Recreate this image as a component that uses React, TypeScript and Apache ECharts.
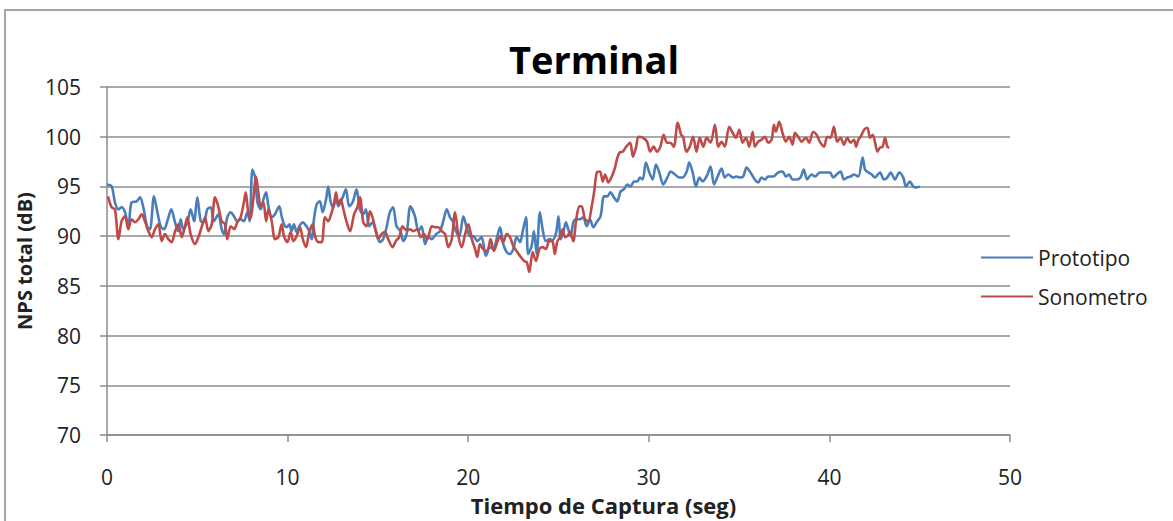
import React, { useEffect, useRef } from "react";
import * as echarts from "echarts";

const protoTime = [0.0,0.26,0.44,0.63,0.81,1.0,1.18,1.36,1.64,1.83,2.01,2.23,2.38,2.6,2.79,2.97,3.16,3.34,3.56,3.75,3.93,4.08,4.22,4.45,4.63,4.82,5.0,5.19,5.37,5.55,5.74,5.92,6.16,6.35,6.48,6.66,6.85,7.03,7.22,7.4,7.58,7.77,7.9,8.05,8.2,8.33,8.51,8.66,8.81,8.94,9.12,9.3,9.54,9.67,9.8,9.95,10.1,10.22,10.35,10.5,10.65,10.84,10.96,11.15,11.33,11.46,11.61,11.79,11.94,12.13,12.25,12.38,12.53,12.68,12.81,13.05,13.23,13.41,13.6,13.82,14.0,14.19,14.33,14.52,14.7,14.89,15.11,15.29,15.48,15.66,15.84,16.03,16.25,16.41,16.59,16.8,17.05,17.24,17.42,17.61,17.79,17.98,18.22,18.44,18.62,18.81,18.99,19.14,19.32,19.51,19.73,19.91,20.1,20.28,20.5,20.74,20.98,21.2,21.39,21.61,21.76,21.94,22.13,22.31,22.5,22.68,22.87,23.01,23.2,23.32,23.51,23.64,23.79,23.97,24.12,24.3,24.49,24.67,24.86,25.0,25.12,25.27,25.41,25.54,25.67,25.82,25.97,26.19,26.37,26.56,26.74,26.93,27.11,27.33,27.52,27.7,27.88,28.07,28.25,28.44,28.62,28.81,28.99,29.18,29.36,29.51,29.66,29.84,30.03,30.21,30.4,30.58,30.8,31.03,31.21,31.45,31.69,31.87,32.1,32.24,32.43,32.61,32.8,32.98,33.2,33.42,33.61,33.79,34.03,34.21,34.4,34.67,34.86,35.04,35.23,35.41,35.6,35.87,36.06,36.24,36.43,36.61,36.89,37.16,37.4,37.59,37.77,37.96,38.18,38.4,38.58,38.77,39.01,39.2,39.47,39.75,40.03,40.21,40.4,40.62,40.8,40.99,41.17,41.36,41.6,41.84,41.97,42.16,42.34,42.52,42.8,43.02,43.21,43.39,43.63,43.87,44.09,44.24,44.46,44.64,44.83,45.01];
const protoValue = [95.2,95.0,93.4,92.7,92.9,92.4,90.9,93.4,93.5,93.9,92.9,90.9,90.7,94.0,92.4,91.0,90.7,91.5,92.7,91.5,90.5,91.7,90.7,91.4,92.7,91.5,93.9,91.5,91.4,92.7,92.9,91.5,92.2,90.7,90.2,91.9,92.4,92.0,91.5,91.7,91.5,92.4,91.5,96.7,95.9,93.4,92.7,93.7,94.4,93.0,91.9,92.2,93.0,92.0,91.2,90.9,91.2,90.5,91.2,90.4,91.0,91.4,91.2,90.7,89.7,91.7,93.2,93.5,92.4,93.7,95.0,93.5,92.9,94.0,93.0,93.9,94.7,93.0,93.4,94.7,92.7,92.2,92.7,91.0,91.4,90.5,89.4,89.7,90.9,92.4,92.9,91.0,90.5,89.5,90.2,93.0,92.0,90.5,91.0,89.2,89.9,89.7,90.2,90.5,91.5,92.7,91.9,91.5,90.5,90.0,92.0,90.9,90.0,90.0,89.5,89.9,88.0,88.9,88.7,90.0,90.9,89.2,88.4,88.2,88.7,89.9,89.4,90.4,91.9,88.2,89.0,90.5,88.2,92.4,90.7,89.5,89.7,89.6,90.3,92.0,89.7,90.4,91.4,90.7,90.0,91.4,91.7,91.7,91.9,91.0,91.7,90.9,91.4,92.0,94.0,94.0,94.4,93.9,93.5,94.5,94.7,95.2,95.0,95.5,95.5,95.9,95.7,97.4,96.4,95.7,97.2,96.4,95.2,95.9,96.5,96.2,95.9,95.9,96.5,97.4,96.4,95.0,95.9,95.5,96.0,97.0,95.2,95.9,96.8,95.9,96.2,95.9,96.0,95.9,96.0,96.9,96.5,95.7,95.4,95.9,95.7,96.0,96.0,96.4,96.5,96.0,96.2,95.7,95.7,95.9,96.7,95.7,96.2,96.0,96.4,96.4,96.4,95.9,96.2,96.5,95.7,95.9,96.0,96.2,96.0,97.9,96.7,96.4,96.2,95.9,96.4,95.7,95.9,96.4,95.7,96.4,95.9,95.0,95.5,95.0,94.9,95.0];

const sonoTime = [0.05,0.26,0.44,0.63,0.81,1.0,1.18,1.36,1.55,1.74,1.92,2.1,2.29,2.47,2.66,2.84,3.03,3.21,3.4,3.58,3.77,3.95,4.14,4.32,4.45,4.63,4.87,5.06,5.24,5.43,5.61,5.8,5.98,6.16,6.35,6.53,6.66,6.85,7.03,7.22,7.4,7.58,7.68,7.82,7.95,8.1,8.25,8.38,8.51,8.66,8.81,8.94,9.12,9.3,9.49,9.67,9.8,9.99,10.17,10.32,10.5,10.69,10.84,11.02,11.2,11.39,11.52,11.7,11.89,12.07,12.25,12.44,12.57,12.68,12.81,12.94,13.09,13.27,13.46,13.68,13.86,14.01,14.19,14.38,14.56,14.7,14.89,15.02,15.2,15.39,15.57,15.81,15.99,16.18,16.36,16.5,16.67,16.78,16.96,17.18,17.37,17.55,17.74,17.98,18.16,18.35,18.53,18.72,18.9,19.09,19.27,19.46,19.64,19.83,20.01,20.2,20.38,20.5,20.65,20.83,21.05,21.24,21.42,21.61,21.76,21.94,22.13,22.31,22.5,22.68,22.87,23.09,23.24,23.38,23.57,23.75,23.94,24.12,24.3,24.49,24.68,24.79,24.94,25.09,25.23,25.36,25.49,25.64,25.82,25.97,26.15,26.28,26.47,26.65,26.84,26.97,27.12,27.3,27.45,27.58,27.76,27.95,28.13,28.23,28.38,28.56,28.75,28.97,29.12,29.3,29.43,29.67,29.9,30.08,30.27,30.45,30.64,30.82,31.01,31.19,31.38,31.6,31.79,31.9,32.08,32.27,32.45,32.64,32.82,33.02,33.2,33.42,33.66,33.85,34.03,34.21,34.45,34.64,34.82,35.01,35.19,35.38,35.56,35.75,35.87,36.06,36.24,36.43,36.61,36.8,36.93,37.04,37.22,37.4,37.59,37.77,37.96,38.09,38.27,38.46,38.7,38.88,39.1,39.29,39.47,39.7,39.88,40.06,40.25,40.43,40.62,40.8,40.99,41.17,41.36,41.48,41.6,41.73,41.92,42.1,42.25,42.4,42.53,42.66,42.8,42.95,43.08,43.21,43.32];
const sonoValue = [94.0,92.9,92.7,89.7,91.5,92.0,90.7,91.7,91.4,91.7,92.2,91.5,90.5,89.9,90.7,91.2,89.5,90.2,89.7,89.4,90.5,91.2,89.9,91.0,91.9,90.2,89.2,89.9,90.9,91.9,90.5,91.2,93.9,93.0,91.5,91.2,89.7,91.0,90.7,91.4,91.9,93.4,94.4,92.4,91.8,93.7,96.0,94.4,93.0,93.4,91.5,92.7,91.5,89.7,89.9,91.2,90.0,89.4,90.4,89.5,90.0,90.9,89.7,88.9,90.4,91.2,90.0,89.4,89.4,91.9,91.5,92.4,93.2,94.4,93.2,93.7,92.7,91.4,90.5,92.2,92.9,93.9,91.4,91.0,92.5,91.9,90.5,89.7,90.2,90.4,89.7,88.9,89.5,89.9,91.0,90.7,90.6,90.7,90.5,90.7,89.9,90.2,89.7,91.0,90.9,90.9,90.5,90.2,88.9,89.7,92.4,90.0,88.9,90.2,91.2,89.7,88.7,87.9,89.2,88.7,88.5,89.7,88.5,89.4,90.0,89.4,90.2,89.9,89.0,88.5,88.0,87.5,87.4,86.4,88.4,87.5,88.7,88.9,88.7,89.5,89.4,88.2,89.5,89.9,90.7,89.9,90.0,90.4,89.5,91.5,93.0,93.0,91.7,91.5,93.0,94.4,96.4,96.5,95.5,96.2,95.4,96.0,96.9,97.7,98.4,98.5,99.0,99.4,98.0,99.0,100.0,99.9,99.5,98.5,99.0,98.5,99.0,100.2,99.4,99.4,99.0,101.4,100.2,100.0,98.5,99.0,100.0,98.5,99.9,99.0,99.9,99.4,101.2,99.0,99.5,99.0,101.0,100.4,99.9,100.7,99.4,99.9,99.0,100.5,99.0,99.5,99.7,100.0,99.4,99.7,101.2,100.5,101.5,100.4,99.5,100.0,99.2,100.4,100.0,99.5,99.9,99.4,100.5,100.2,99.5,99.0,100.0,99.9,101.0,99.5,99.9,99.2,99.9,99.4,99.7,99.0,99.7,100.0,100.7,100.9,99.9,100.2,99.4,98.5,98.9,99.0,99.9,99.0,98.9];

const seriesNames = ["Prototipo", "Sonometro"];
const chartTitle = "Terminal";
const xAxisName = "Tiempo de Captura (seg)";
const yAxisName = "NPS total (dB)";

const FONT = "'Open Sans', sans-serif";

export default function App() {
  const ref = useRef<HTMLDivElement>(null);
  useEffect(() => {
    if (!ref.current) return;
    const chart = echarts.init(ref.current, undefined, { renderer: "svg" });
    const protoData = protoTime.map((t, i) => [t, protoValue[i]]);
    const sonoData = sonoTime.map((t, i) => [t, sonoValue[i]]);
    const axisColor = "#8c8c8c";
    const textColor = "#222222";
    chart.setOption({
      animation: false,
      backgroundColor: "#ffffff",
      textStyle: { fontFamily: FONT },
      graphic: [
        {
          type: "rect",
          shape: { x: 5, y: 10, width: 1200, height: 560 },
          style: { fill: "none", stroke: "#a6a6a6", lineWidth: 2 },
          silent: true,
          z: -1,
        },
      ],
      title: {
        text: chartTitle,
        left: 589,
        textAlign: "center",
        top: 35,
        textStyle: { fontFamily: FONT, fontSize: 38, fontWeight: "bold", color: "#000000" },
      },
      legend: {
        orient: "vertical",
        left: 980,
        top: 247,
        itemWidth: 52,
        itemHeight: 14,
        itemGap: 18,
        padding: 0,
        data: seriesNames,
        itemStyle: { opacity: 0 },
        textStyle: { fontFamily: FONT, fontSize: 21, color: textColor },
      },
      grid: { left: 107, right: 163, top: 87, bottom: 85 },
      xAxis: {
        type: "value",
        min: 0,
        max: 50,
        interval: 10,
        name: xAxisName,
        nameLocation: "middle",
        nameGap: 59,
        nameTextStyle: {
          fontFamily: FONT,
          fontSize: 22,
          fontWeight: "bold",
          color: textColor,
          padding: [0, 0, 0, 90],
        },
        axisLine: { show: true, lineStyle: { color: axisColor, width: 1.5 } },
        axisTick: { show: true, inside: false, length: 7, lineStyle: { color: axisColor, width: 1.5 } },
        axisLabel: { margin: 31, fontFamily: FONT, fontSize: 21, color: textColor },
        splitLine: { show: false },
      },
      yAxis: {
        type: "value",
        min: 70,
        max: 105,
        interval: 5,
        name: yAxisName,
        nameLocation: "middle",
        nameGap: 68,
        nameTextStyle: { fontFamily: FONT, fontSize: 20, fontWeight: "bold", color: textColor },
        axisLine: { show: true, lineStyle: { color: axisColor, width: 1.5 } },
        axisTick: { show: true, inside: false, length: 7, lineStyle: { color: axisColor, width: 1.5 } },
        axisLabel: { margin: 26, fontFamily: FONT, fontSize: 21, color: textColor },
        splitLine: { show: true, lineStyle: { color: axisColor, width: 1.5 } },
      },
      series: [
        {
          name: seriesNames[0],
          type: "line",
          data: protoData,
          symbol: "none",
          showSymbol: false,
          smooth: 0.3,
          lineStyle: { color: "#4a7ebb", width: 2.6 },
          itemStyle: { color: "#4a7ebb" },
        },
        {
          name: seriesNames[1],
          type: "line",
          data: sonoData,
          symbol: "none",
          showSymbol: false,
          smooth: 0.3,
          lineStyle: { color: "#be4b48", width: 2.6 },
          itemStyle: { color: "#be4b48" },
        },
      ],
    });
    return () => chart.dispose();
  }, []);
  return (
    <div
      ref={ref}
      style={{ position: "fixed", left: 0, top: 0, width: 1173, height: 521 }}
    />
  );
}
